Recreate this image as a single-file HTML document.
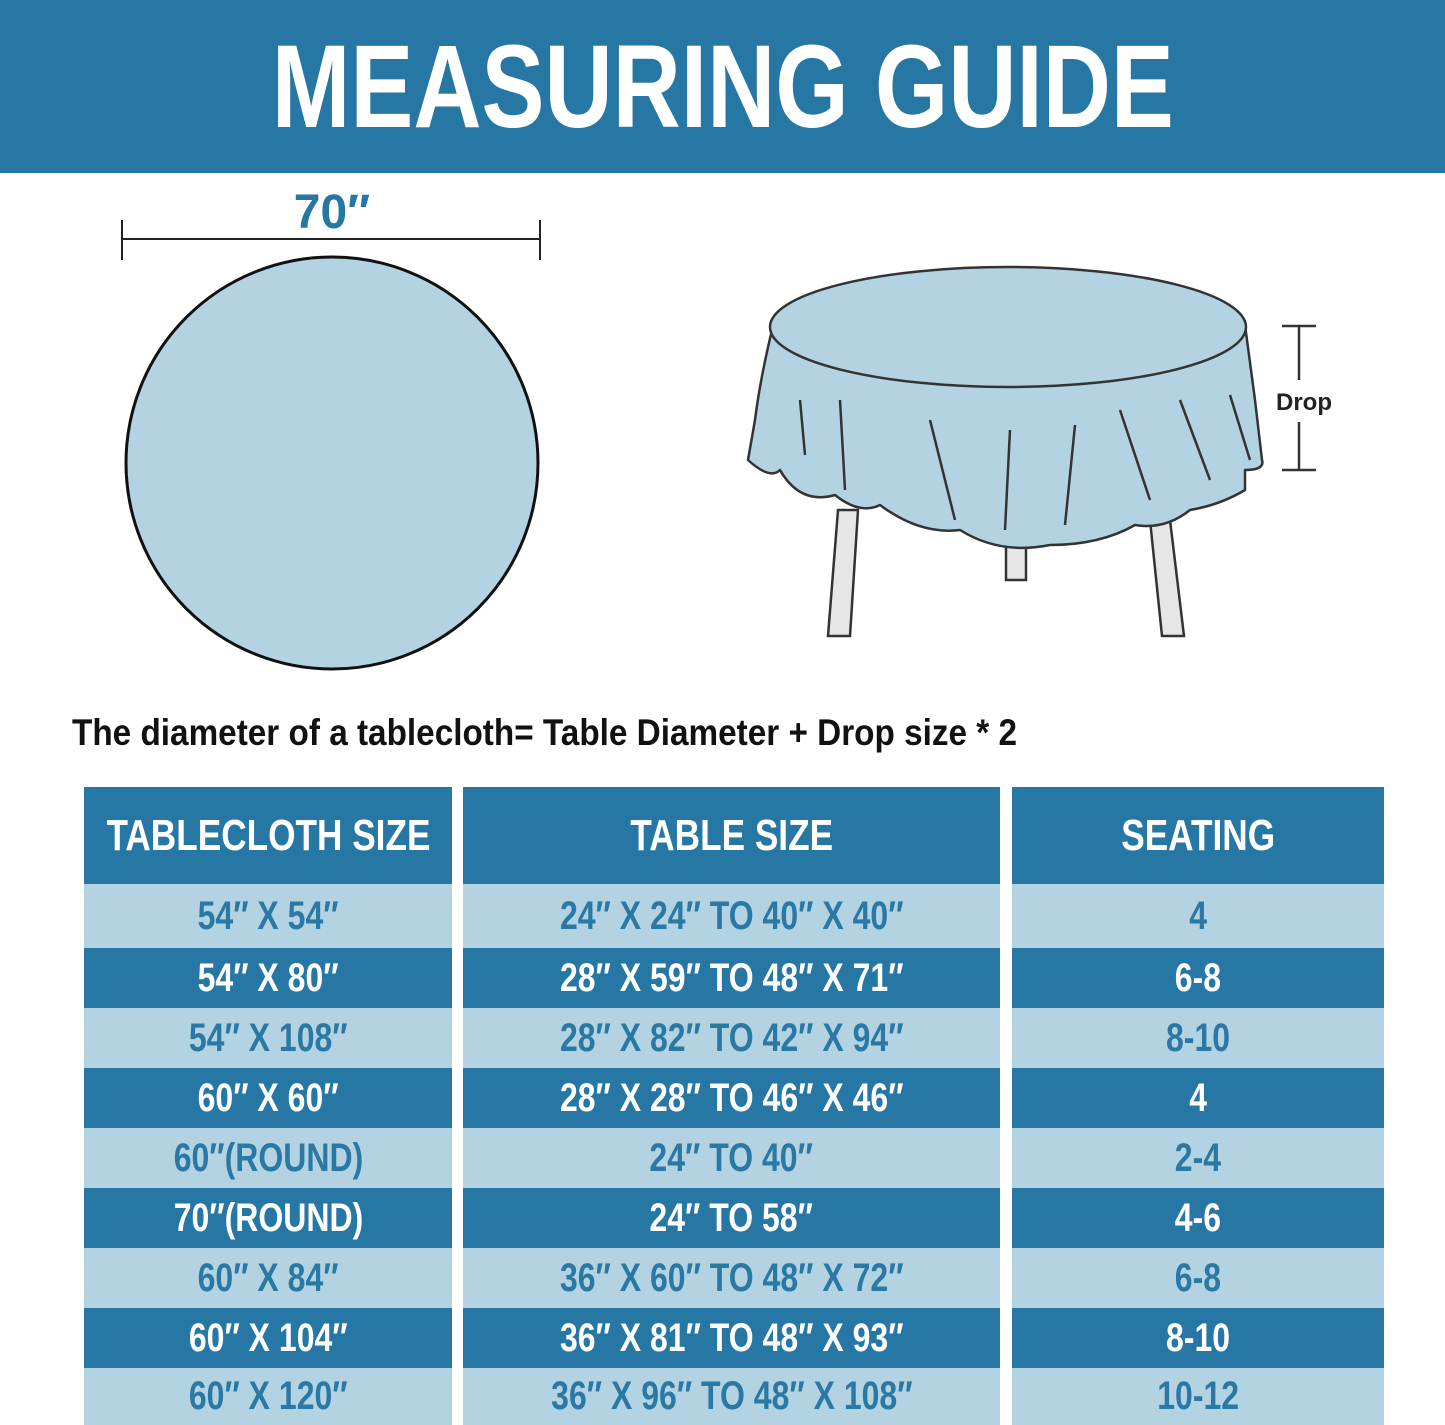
<!DOCTYPE html>
<html><head><style>
body{margin:0;width:1445px;height:1425px;background:#fff;position:relative;overflow:hidden;font-family:"Liberation Sans",sans-serif}
.hdr{position:absolute;left:0;top:0;width:1445px;height:173px;background:#2677a3}
.t{position:absolute;white-space:nowrap;font-weight:bold;transform-origin:center;text-align:center}
.cell{position:absolute;display:flex;align-items:center;justify-content:center;font-weight:bold;font-size:40px;white-space:nowrap}
.cell span{display:inline-block;transform:scaleX(0.8)}
</style></head><body>
<div class="hdr"></div>
<div class="t" style="left:0;width:1445px;top:22px;font-size:118px;color:#fff;line-height:130px"><span style="display:inline-block;transform:scaleX(0.80)">MEASURING GUIDE</span></div>
<svg width="1445" height="700" style="position:absolute;left:0;top:0">
<text x="332" y="228" font-size="48" font-weight="bold" fill="#2677a3" text-anchor="middle" font-family="Liberation Sans">70″</text>
<line x1="122" y1="239" x2="540" y2="239" stroke="#222" stroke-width="2"/>
<line x1="122" y1="220" x2="122" y2="260" stroke="#222" stroke-width="2"/>
<line x1="540" y1="220" x2="540" y2="260" stroke="#222" stroke-width="2"/>
<circle cx="332" cy="463" r="206" fill="#b3d3e3" stroke="#111" stroke-width="3"/>
<g stroke="#333" stroke-width="2.5">
<polygon points="838,510 858,510 850,636 828,636" fill="#e6e6e6"/>
<polygon points="1150,520 1170,520 1184,636 1162,636" fill="#e6e6e6"/>
<rect x="1006" y="530" width="20" height="50" fill="#e6e6e6"/>
<path d="M772,330 Q760,380 755,420 L748,460 Q770,480 780,470 Q800,505 835,495 Q860,515 880,505 Q920,535 960,530 Q1000,555 1050,545 Q1100,545 1135,525 Q1165,530 1190,510 Q1220,505 1245,490 L1245,470 Q1265,470 1262,460 L1255,400 L1245,325 Z" fill="#b3d3e3" stroke-linejoin="round"/>
<ellipse cx="1008" cy="327" rx="238" ry="60" fill="#b3d3e3"/>
<path d="M800,400 L805,455 M840,400 L845,490 M930,420 L955,520 M1010,430 L1005,530 M1075,425 L1065,525 M1120,410 L1150,500 M1180,400 L1210,480 M1230,395 L1250,460" fill="none"/>
<line x1="1282" y1="326" x2="1316" y2="326"/><line x1="1299" y1="326" x2="1299" y2="380"/>
<line x1="1299" y1="422" x2="1299" y2="470"/><line x1="1282" y1="470" x2="1316" y2="470"/>
</g>
<text x="1304" y="410" font-size="24" font-weight="bold" fill="#222" text-anchor="middle" font-family="Liberation Sans">Drop</text>
</svg>
<div class="t" style="left:72px;top:712px;font-size:37px;color:#111;text-align:left;transform-origin:left;transform:scaleX(0.9)">The diameter of a tablecloth= Table Diameter + Drop size * 2</div>
<div id="tb"></div>
<script>
var cols=[[84,368],[463,537],[1012,372]];
var rows=[[787,97],[884,64],[948,60],[1008,60],[1068,60],[1128,60],[1188,60],[1248,60],[1308,60],[1368,57]];
var data=[["TABLECLOTH SIZE","TABLE SIZE","SEATING"],["54″ X 54″","24″ X 24″ TO 40″ X 40″","4"],["54″ X 80″","28″ X 59″ TO 48″ X 71″","6-8"],["54″ X 108″","28″ X 82″ TO 42″ X 94″","8-10"],["60″ X 60″","28″ X 28″ TO 46″ X 46″","4"],["60″(ROUND)","24″ TO 40″","2-4"],["70″(ROUND)","24″ TO 58″","4-6"],["60″ X 84″","36″ X 60″ TO 48″ X 72″","6-8"],["60″ X 104″","36″ X 81″ TO 48″ X 93″","8-10"],["60″ X 120″","36″ X 96″ TO 48″ X 108″","10-12"]];
var h="";
rows.forEach(function(r,i){var dark=(i%2==0);cols.forEach(function(c,j){
h+='<div class="cell" style="left:'+c[0]+'px;top:'+r[0]+'px;width:'+c[1]+'px;height:'+r[1]+'px;background:'+(dark?'#2677a3':'#b3d3e3')+';color:'+(dark?'#fff':'#2a78a4')+(i==0?';font-size:44px':'')+'"><span>'+data[i][j]+'</span></div>';});});
document.getElementById("tb").innerHTML=h;
</script>
</body></html>
